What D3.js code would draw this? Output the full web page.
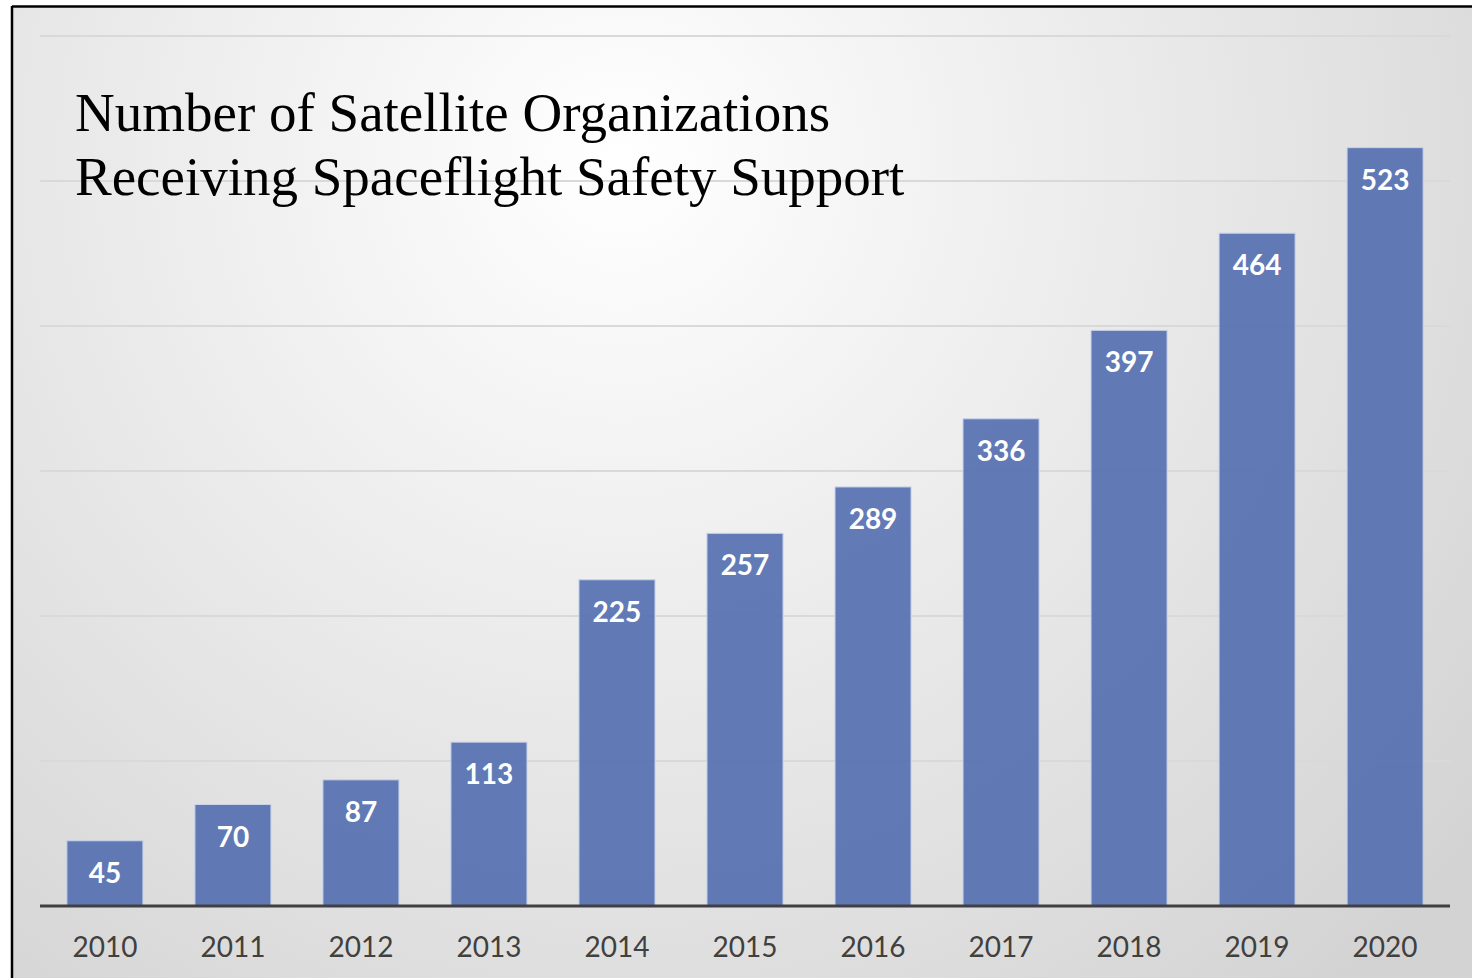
<!DOCTYPE html>
<html>
<head>
<meta charset="utf-8">
<script src="https://cdn.jsdelivr.net/npm/d3@7"></script>
<style>
  body { margin: 0; background: #fff; }
  svg { display: block; }
</style>
</head>
<body>
<div class="canvas"></div>
<script>
// chart data
const years = ["2010", "2011", "2012", "2013", "2014", "2015", "2016", "2017", "2018", "2019", "2020"];
const organizations = [45, 70, 87, 113, 225, 257, 289, 336, 397, 464, 523];
const yTicks = [0, 100, 200, 300, 400, 500, 600];
const titleLines = ["Number of Satellite Organizations", "Receiving Spaceflight Safety Support"];

const width = 1472, height = 978;
const margin = { top: 36, right: 22, bottom: 72, left: 40 };
const graphWidth = width - margin.left - margin.right;
const graphHeight = height - margin.top - margin.bottom;

const svg = d3.select('.canvas')
  .append('svg')
    .attr('width', width)
    .attr('height', height);

// background gradient
const defs = svg.append('defs');
const grad = defs.append('radialGradient')
  .attr('id', 'bg')
  .attr('gradientUnits', 'userSpaceOnUse')
  .attr('cx', 620).attr('cy', 160).attr('r', 1100);
grad.append('stop').attr('offset', '0%').attr('stop-color', '#ffffff');
grad.append('stop').attr('offset', '100%').attr('stop-color', '#d3d3d3');

svg.append('rect')
  .attr('x', 12).attr('y', 6)
  .attr('width', width - 12).attr('height', height - 6)
  .attr('fill', 'url(#bg)');

// frame (left and top edges)
svg.append('line')
  .attr('x1', 12).attr('x2', 12).attr('y1', 6).attr('y2', height)
  .attr('stroke', '#000').attr('stroke-width', 2.5);
svg.append('line')
  .attr('x1', 12).attr('x2', width).attr('y1', 6.5).attr('y2', 6.5)
  .attr('stroke', '#000').attr('stroke-width', 2.5);

const graph = svg.append('g')
  .attr('transform', `translate(${margin.left}, ${margin.top})`);

const x = d3.scaleBand()
  .domain(years)
  .range([0, graphWidth])
  .paddingInner(0.406)
  .paddingOuter(0.21);

const y = d3.scaleLinear()
  .domain([0, 600])
  .range([graphHeight, 0]);

// gridlines
graph.append('g')
  .selectAll('line')
  .data(yTicks.slice(1))
  .enter()
  .append('line')
    .attr('x1', 0).attr('x2', graphWidth)
    .attr('y1', d => y(d)).attr('y2', d => y(d))
    .attr('stroke', '#d9d9d9')
    .attr('stroke-width', 2);

// bars
graph.selectAll('rect.bar')
  .data(organizations)
  .enter()
  .append('rect')
    .attr('class', 'bar')
    .attr('x', (d, i) => x(years[i]))
    .attr('y', d => y(d))
    .attr('width', x.bandwidth())
    .attr('height', d => graphHeight - y(d))
    .attr('fill', 'rgba(82,110,176,0.9)')
    .attr('stroke', '#c9d2ea')
    .attr('stroke-width', 1);

// value labels
graph.selectAll('text.value')
  .data(organizations)
  .enter()
  .append('text')
    .attr('class', 'value')
    .attr('x', (d, i) => x(years[i]) + x.bandwidth() / 2)
    .attr('y', d => y(d) + 42)
    .attr('text-anchor', 'middle')
    .attr('fill', '#fff')
    .attr('font-family', 'Lato, "Open Sans", sans-serif')
    .attr('font-weight', 'bold')
    .attr('font-size', 28)
    .text(d => d);

// x axis
const xAxis = d3.axisBottom(x).tickSize(0).tickPadding(31);
const xAxisGroup = graph.append('g')
  .attr('transform', `translate(0, ${graphHeight})`)
  .call(xAxis);
xAxisGroup.select('.domain')
  .attr('stroke', '#404040')
  .attr('stroke-width', 3)
  .attr('d', `M0,0H${graphWidth}`);
xAxisGroup.selectAll('text')
  .attr('fill', '#404040')
  .attr('font-family', 'Lato, "Open Sans", sans-serif')
  .attr('font-size', 28);

// title
const title = svg.append('text')
  .attr('font-family', '"Liberation Serif", "DejaVu Serif", serif')
  .attr('font-size', 55)
  .attr('fill', '#000');
titleLines.forEach((t, i) => {
  title.append('tspan')
    .attr('x', 75)
    .attr('y', 131 + i * 64)
    .text(t);
});
</script>
</body>
</html>
